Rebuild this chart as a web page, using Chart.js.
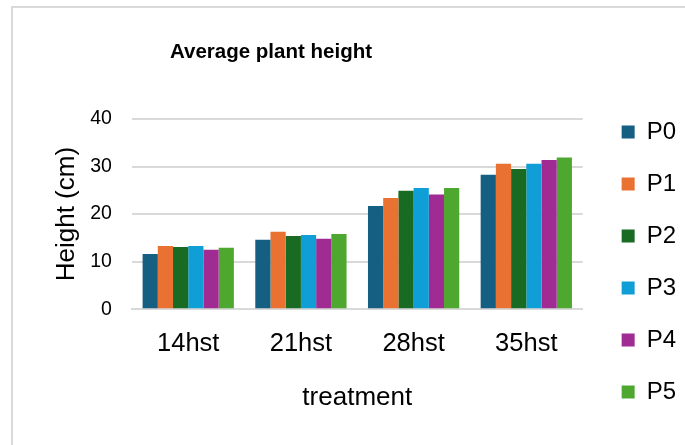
<!DOCTYPE html>
<html>
<head>
<meta charset="utf-8">
<script src="https://cdn.jsdelivr.net/npm/chart.js@4.4.1/dist/chart.umd.min.js"></script>
<style>
  html, body { margin: 0; padding: 0; background: #fff; overflow: hidden; }
  #wrap { position: relative; width: 685px; height: 445px; }
  #frame {
    position: absolute; left: 11px; top: 6px; width: 700px; height: 460px;
    border-top: 2px solid #d9d9d9; border-left: 2px solid #d9d9d9;
  }
  #chart { position: absolute; left: 0; top: 0; }
</style>
</head>
<body>
<div id="wrap">
  <div id="frame"></div>
  <canvas id="chart" width="685" height="445"></canvas>
</div>
<script>
const categories = ["14hst", "21hst", "28hst", "35hst"];
const seriesNames = ["P0", "P1", "P2", "P3", "P4", "P5"];
const p0 = [11.6, 14.6, 21.7, 28.3];
const p1 = [13.3, 16.3, 23.4, 30.6];
const p2 = [13.1, 15.4, 24.9, 29.5];
const p3 = [13.3, 15.6, 25.5, 30.6];
const p4 = [12.5, 14.8, 24.1, 31.4];
const p5 = [12.9, 15.8, 25.5, 31.9];
const yTicks = [0, 10, 20, 30, 40];

const colors = ["#156082", "#E97132", "#196B24", "#0F9ED5", "#A02B93", "#4EA72E"];
const seriesValues = [p0, p1, p2, p3, p4, p5];

const TITLE_CENTER_X = 271; // excel puts the title left of centre
const LEGEND_SHIFT = 11;

// nudge title and legend to where excel had them
const placeBlocks = {
  id: "placeBlocks",
  afterLayout(chart) {
    const t = chart.titleBlock;
    if (t) {
      const half = Math.min(TITLE_CENTER_X, chart.width - TITLE_CENTER_X);
      t.left = TITLE_CENTER_X - half;
      t.right = TITLE_CENTER_X + half;
    }
    const lg = chart.legend;
    if (lg) {
      lg.left += LEGEND_SHIFT;
      lg.right += LEGEND_SHIFT;
    }
  },
};

const txt = "#000000";
const grid = "#d9d9d9";
const FONT = "'Liberation Sans', Arial, sans-serif";

new Chart(document.getElementById("chart"), {
  type: "bar",
  data: {
    labels: categories,
    datasets: seriesNames.map((name, i) => ({
      label: name,
      data: seriesValues[i],
      backgroundColor: colors[i],
      borderWidth: 0,
      barPercentage: 1,
      categoryPercentage: 0.81,
    })),
  },
  options: {
    responsive: false,
    animation: false,
    layout: { padding: { left: 12, right: 10, top: 0, bottom: 13 } },
    plugins: {
      title: {
        display: true,
        text: "Average plant height",
        color: txt,
        font: { family: FONT, size: 20.5, weight: "bold" },
        padding: { top: 39.7, bottom: 54.7 },
      },
      legend: {
        display: true,
        position: "right",
        align: "end",
        labels: {
          color: txt,
          boxWidth: 13,
          boxHeight: 13,
          padding: 28,
          font: { family: FONT, size: 24 },
        },
      },
      tooltip: { enabled: false },
    },
    scales: {
      x: {
        grid: { display: false, drawTicks: false },
        border: { display: true, color: grid, width: 2 },
        ticks: {
          color: txt,
          padding: 19,
          font: { family: FONT, size: 25.5 },
        },
        title: {
          display: true,
          text: "treatment",
          color: txt,
          font: { family: FONT, size: 26 },
          padding: { top: 4, bottom: 19 },
        },
      },
      y: {
        min: yTicks[0],
        max: yTicks[yTicks.length - 1],
        afterBuildTicks(scale) {
          scale.ticks = yTicks.map(v => ({ value: v }));
        },
        grid: { color: grid, lineWidth: 2, drawTicks: false },
        border: { display: false },
        ticks: {
          color: txt,
          padding: 20,
          font: { family: FONT, size: 19.5 },
        },
        title: {
          display: true,
          text: "Height (cm)",
          color: txt,
          font: { family: FONT, size: 26 },
          padding: { top: 39, bottom: -12 },
        },
      },
    },
  },
  plugins: [placeBlocks],
});
</script>
</body>
</html>
